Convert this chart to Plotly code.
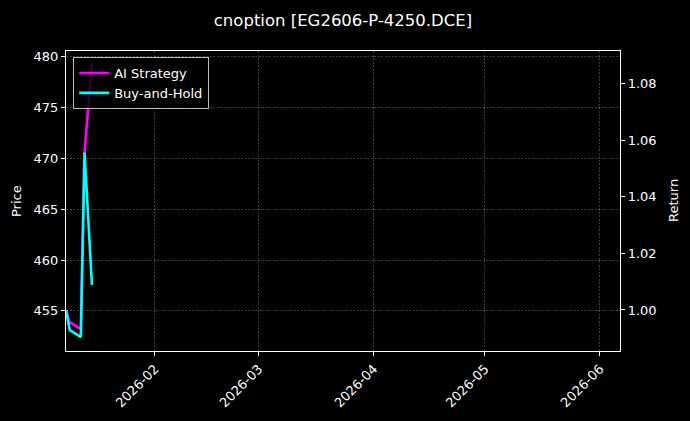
import plotly.graph_objects as go

# ---- data ----
dates = ["2026-01-08", "2026-01-09", "2026-01-12", "2026-01-13", "2026-01-15"]
ai_strategy = [1.000, 0.9956, 0.9933, 1.0556, 1.0874]
buy_and_hold = [1.000, 0.9929, 0.9904, 1.0556, 1.0088]
price_placeholder = [None, None, None, None, None]  # price axis shown, no price line visible

price_ticks = [455, 460, 465, 470, 475, 480]
return_ticks = [1.00, 1.02, 1.04, 1.06, 1.08]
month_ticks = ["2026-02-01", "2026-03-01", "2026-04-01", "2026-05-01", "2026-06-01"]
month_labels = ["2026-02", "2026-03", "2026-04", "2026-05", "2026-06"]

title_text = "cnoption [EG2606-P-4250.DCE]"
left_label = "Price"
right_label = "Return"

FONT = "DejaVu Sans"
GRID = "rgba(255,255,255,0.24)"
W, H = 690, 421
ML, MR, MT, MB = 66, 70, 51, 70

fig = go.Figure()
fig.add_trace(go.Scatter(x=dates, y=price_placeholder, mode="lines", name="Price",
                         showlegend=False, hoverinfo="skip", yaxis="y",
                         line=dict(color="rgba(0,0,0,0)")))
fig.add_trace(go.Scatter(x=dates, y=ai_strategy, mode="lines", name="AI Strategy",
                         line=dict(color="#ff00ff", width=2.6), yaxis="y2"))
fig.add_trace(go.Scatter(x=dates, y=buy_and_hold, mode="lines", name="Buy-and-Hold",
                         line=dict(color="#00ffff", width=2.6), yaxis="y2"))

pw = W - ML - MR
fig.update_layout(
    width=W, height=H,
    paper_bgcolor="black", plot_bgcolor="black",
    margin=dict(l=ML, r=MR, t=MT, b=MB),
    font=dict(family=FONT, color="white", size=13),
    title=dict(text=title_text, x=0.5, xref="paper", y=1 - 20 / H, yanchor="middle",
               font=dict(size=16.5, color="white", family=FONT)),
    showlegend=True,
    legend=dict(x=0.013, y=0.98, xanchor="left", yanchor="top",
                bgcolor="rgba(0,0,0,0.8)", bordercolor="rgba(220,220,220,0.85)", borderwidth=1,
                font=dict(size=13, color="white", family=FONT)),
    xaxis=dict(type="date", range=["2026-01-08", "2026-06-06 10:00"], automargin=False,
               tickmode="array", tickvals=month_ticks, ticktext=month_labels,
               tickangle=-45, ticks="outside", ticklen=4, tickcolor="white",
               showline=True, linecolor="white", linewidth=1.2, mirror=True,
               showgrid=True, gridcolor=GRID, gridwidth=0.5, griddash="2px,1.5px",
               zeroline=False, tickfont=dict(size=13)),
    yaxis=dict(range=[451.06, 480.54], automargin=False,
               tickmode="array", tickvals=price_ticks,
               ticks="outside", ticklen=4, tickcolor="white",
               showline=True, linecolor="white", linewidth=1.2,
               showgrid=True, gridcolor=GRID, gridwidth=0.5, griddash="2px,1.5px",
               zeroline=False, tickfont=dict(size=13)),
    yaxis2=dict(range=[0.98549, 1.0915],
                overlaying="y", side="right", automargin=False,
                tickmode="array", tickvals=return_ticks, tickformat=".2f",
                ticks="outside", ticklen=4, tickcolor="white",
                showline=True, linecolor="white", linewidth=1.2,
                showgrid=False, zeroline=False, tickfont=dict(size=13)),
    annotations=[
        dict(text=left_label, xref="paper", yref="paper", x=(16 - ML) / pw, y=0.5,
             xanchor="center", yanchor="middle", textangle=-90, showarrow=False,
             font=dict(size=13, color="white", family=FONT)),
        dict(text=right_label, xref="paper", yref="paper", x=(673 - ML) / pw, y=0.5,
             xanchor="center", yanchor="middle", textangle=-90, showarrow=False,
             font=dict(size=13, color="white", family=FONT)),
    ],
)

fig.write_html("out.html", config={"displayModeBar": False},
               post_script="document.body.style.margin='0';document.body.style.background='black';")
